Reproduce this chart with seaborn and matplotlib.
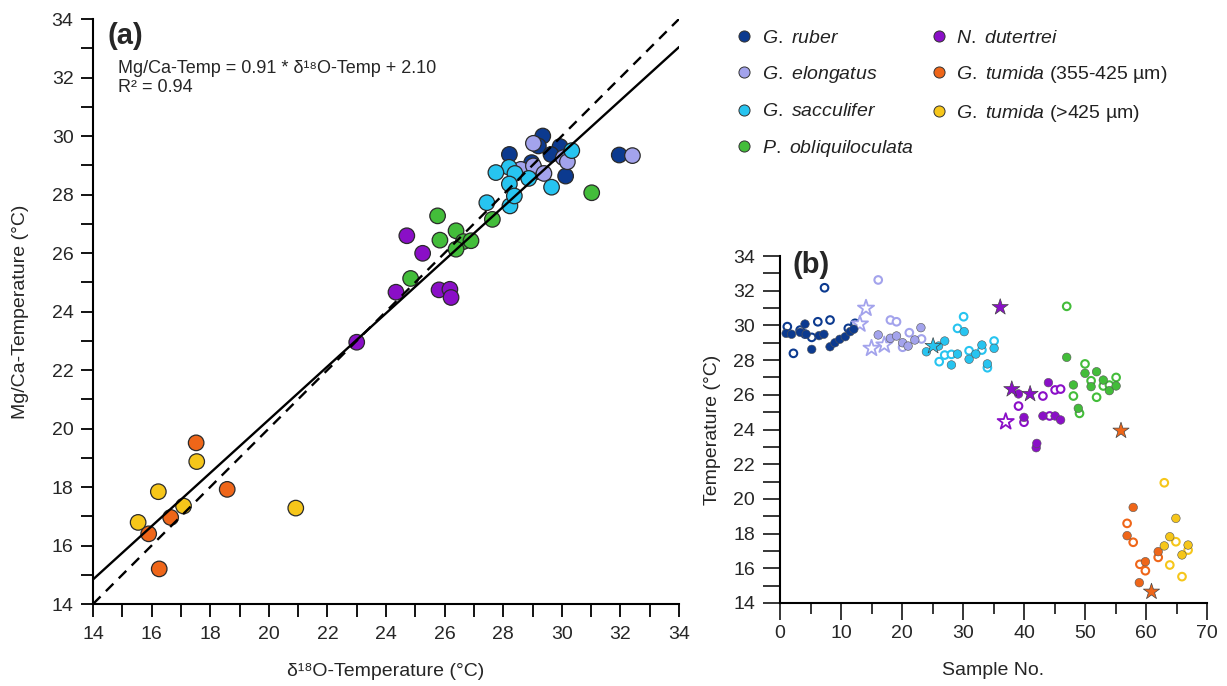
import matplotlib
matplotlib.use("Agg")
import matplotlib.pyplot as plt
from matplotlib.lines import Line2D
from matplotlib.ticker import MultipleLocator
import numpy as np
import pandas as pd
import seaborn as sns

sns.set_theme(style="white")
plt.rcParams["font.family"] = ["Liberation Sans", "DejaVu Sans"]
plt.rcParams["mathtext.fontset"] = "custom"
plt.rcParams["mathtext.rm"] = "Liberation Sans"
plt.rcParams["mathtext.it"] = "Liberation Sans:italic"

species = ["G. ruber", "G. elongatus", "G. sacculifer", "P. obliquiloculata",
           "N. dutertrei", "G. tumida (355-425 µm)", "G. tumida (>425 µm)"]
legend_labels = [r"$\it{G.\ ruber}$", r"$\it{G.\ elongatus}$", r"$\it{G.\ sacculifer}$",
                 r"$\it{P.\ obliquiloculata}$", r"$\it{N.\ dutertrei}$",
                 r"$\it{G.\ tumida}$ (355-425 µm)", r"$\it{G.\ tumida}$ (>425 µm)"]
colors = ["#0c3a8f", "#a3a3ec", "#27c4f0", "#43bd3a", "#8a0fc7", "#ef6619", "#f6c61a"]
palette = dict(zip(species, colors))

# ---- (a) δ18O-temperature vs Mg/Ca-temperature ----
ruber_d18o = [29.35, 29.2, 28.21, 29.94, 29.63, 30.13, 31.96, 28.97, 29.14]
ruber_mgca = [30.0, 29.66, 29.37, 29.64, 29.37, 28.63, 29.35, 29.09, 28.78]
elong_d18o = [29.03, 30.05, 30.19, 32.41, 28.6, 29.03, 29.39]
elong_mgca = [29.75, 29.26, 29.12, 29.33, 28.86, 28.98, 28.72]
sacc_d18o = [30.34, 28.2, 27.75, 28.4, 28.87, 28.21, 29.65, 27.44, 28.23, 28.38]
sacc_mgca = [29.5, 28.93, 28.75, 28.72, 28.55, 28.36, 28.25, 27.72, 27.61, 27.95]
pobl_d18o = [31.02, 25.76, 25.84, 26.39, 26.64, 26.90, 26.39, 27.63, 24.84]
pobl_mgca = [28.06, 27.27, 26.44, 26.76, 26.39, 26.42, 26.13, 27.15, 25.13]
dut_d18o = [24.71, 25.25, 24.34, 25.81, 26.18, 26.22, 23.0]
dut_mgca = [26.59, 25.99, 24.66, 24.74, 24.76, 24.48, 22.95]
tum1_d18o = [17.52, 18.58, 16.65, 15.90, 16.26]
tum1_mgca = [19.51, 17.92, 16.96, 16.40, 15.20]
tum2_d18o = [17.54, 16.23, 20.92, 17.09, 15.54]
tum2_mgca = [18.87, 17.84, 17.28, 17.35, 16.79]

slope, intercept = 0.91, 2.10

# ---- (b) temperatures by sample number ----
ruber_mg_s = [1.0, 1.9, 3.3, 4.1, 4.3, 5.2, 6.4, 7.2, 8.2, 9.0, 9.8, 10.7, 11.5, 12.1]
ruber_mg_t = [29.54, 29.49, 29.6, 30.08, 29.49, 28.62, 29.41, 29.49, 28.77, 29.0, 29.2, 29.35, 29.64, 29.78]
ruber_d_s = [1.2, 2.2, 3.3, 4.1, 5.2, 6.2, 7.3, 8.2, 11.2, 12.3]
ruber_d_t = [29.93, 28.39, 29.73, 29.5, 29.31, 30.21, 32.17, 30.31, 29.83, 30.12]

elong_mg_s = [16.1, 18.1, 19.1, 20.1, 21.0, 22.1, 23.1]
elong_mg_t = [29.45, 29.26, 29.39, 29.0, 28.81, 29.16, 29.87]
elong_d_s = [16.1, 18.1, 19.1, 20.1, 21.2, 23.2]
elong_d_t = [32.62, 30.31, 30.21, 28.74, 29.58, 29.22]
elong_star_s = [13.1, 14.1, 15.0, 17.1]
elong_star_t = [30.08, 30.99, 28.68, 28.87]

sacc_mg_s = [24.0, 26.0, 27.0, 28.1, 29.1, 30.2, 31.0, 32.1, 33.1, 34.0, 35.1]
sacc_mg_t = [28.48, 28.81, 29.1, 27.72, 28.35, 29.64, 28.05, 28.35, 28.87, 27.78, 28.68]
sacc_d_s = [26.1, 27.0, 28.1, 29.1, 30.1, 31.0, 33.1, 34.0, 35.1]
sacc_d_t = [27.91, 28.29, 28.33, 29.83, 30.5, 28.54, 28.58, 27.56, 29.1]
sacc_star_s = [25.1]
sacc_star_t = [28.81]

pobl_mg_s = [47.0, 48.1, 48.9, 50.0, 51.0, 51.9, 53.0, 54.0, 55.1]
pobl_mg_t = [28.16, 26.57, 25.22, 27.24, 26.47, 27.33, 26.85, 26.24, 26.51]
pobl_d_s = [47.0, 48.1, 49.1, 50.0, 51.0, 51.9, 53.0, 54.0, 55.1]
pobl_d_t = [31.1, 25.93, 24.93, 27.78, 26.81, 25.86, 26.51, 26.56, 27.0]

dut_mg_s = [39.1, 40.0, 42.0, 42.1, 43.1, 44.0, 45.1, 46.0]
dut_mg_t = [26.05, 24.7, 22.95, 23.2, 24.78, 26.7, 24.78, 24.55]
dut_d_s = [39.1, 40.0, 43.1, 44.2, 45.1, 46.0]
dut_d_t = [25.35, 24.42, 25.93, 24.78, 26.28, 26.33]
dut_star_s = [36.1, 38.0, 41.0]
dut_star_t = [31.05, 26.32, 26.05]
dut_ostar_s = [37.0]
dut_ostar_t = [24.45]

tum1_mg_s = [57.9, 56.9, 62.0, 59.9, 58.9]
tum1_mg_t = [19.51, 17.88, 16.96, 16.38, 15.17]
tum1_d_s = [56.9, 57.9, 62.0, 59.0, 59.9]
tum1_d_t = [18.59, 17.5, 16.63, 16.23, 15.86]
tum1_star_s = [55.9, 60.9]
tum1_star_t = [23.93, 14.65]

tum2_mg_s = [64.9, 63.9, 63.0, 66.9, 65.9]
tum2_mg_t = [18.88, 17.82, 17.29, 17.34, 16.77]
tum2_d_s = [63.0, 64.9, 66.9, 63.9, 65.9]
tum2_d_t = [20.93, 17.53, 17.05, 16.19, 15.52]


def frame(groups, xname, yname):
    rows = []
    for sp, xs, ys in groups:
        for xv, yv in zip(xs, ys):
            rows.append({"species": sp, xname: xv, yname: yv})
    return pd.DataFrame(rows)


df_a = frame([
    (species[0], ruber_d18o, ruber_mgca), (species[1], elong_d18o, elong_mgca),
    (species[2], sacc_d18o, sacc_mgca), (species[3], pobl_d18o, pobl_mgca),
    (species[4], dut_d18o, dut_mgca), (species[5], tum1_d18o, tum1_mgca),
    (species[6], tum2_d18o, tum2_mgca)], "d18o", "mgca")

df_b_mg = frame([
    (species[0], ruber_mg_s, ruber_mg_t), (species[1], elong_mg_s, elong_mg_t),
    (species[2], sacc_mg_s, sacc_mg_t), (species[3], pobl_mg_s, pobl_mg_t),
    (species[4], dut_mg_s, dut_mg_t), (species[5], tum1_mg_s, tum1_mg_t),
    (species[6], tum2_mg_s, tum2_mg_t)], "sample", "temp")
df_b_d = frame([
    (species[0], ruber_d_s, ruber_d_t), (species[1], elong_d_s, elong_d_t),
    (species[2], sacc_d_s, sacc_d_t), (species[3], pobl_d_s, pobl_d_t),
    (species[4], dut_d_s, dut_d_t), (species[5], tum1_d_s, tum1_d_t),
    (species[6], tum2_d_s, tum2_d_t)], "sample", "temp")
df_b_star = frame([
    (species[2], sacc_star_s, sacc_star_t), (species[4], dut_star_s, dut_star_t),
    (species[5], tum1_star_s, tum1_star_t)], "sample", "temp")
df_b_ostar = frame([
    (species[1], elong_star_s, elong_star_t), (species[4], dut_ostar_s, dut_ostar_t)],
    "sample", "temp")

fig = plt.figure(figsize=(12.27, 6.86), dpi=100)
ax1 = fig.add_axes([0.0758, 0.1195, 0.4776, 0.8528])
ax2 = fig.add_axes([0.6357, 0.121, 0.348, 0.5058])

# ---------- panel (a) ----------
sns.scatterplot(data=df_a, x="d18o", y="mgca", hue="species", palette=palette,
                s=125, edgecolor="#2a2a2a", linewidth=0.9, legend=False, ax=ax1, zorder=2)
xfit = np.array([14.0, 34.0])
sns.lineplot(x=xfit, y=slope * xfit + intercept, color="black", lw=1.7, ax=ax1, zorder=3)
sns.lineplot(x=xfit, y=xfit, color="black", lw=1.7, ax=ax1, zorder=3,
             linestyle=(0, (4.5, 3.2)))
ax1.set_xlim(14, 34)
ax1.set_ylim(14, 34)
ax1.xaxis.set_major_locator(MultipleLocator(2))
ax1.xaxis.set_minor_locator(MultipleLocator(1))
ax1.yaxis.set_major_locator(MultipleLocator(2))
ax1.yaxis.set_minor_locator(MultipleLocator(1))
ax1.tick_params(which="both", direction="out", length=9, width=1.3, color="black",
                labelsize=14, bottom=True, left=True)
ax1.tick_params(axis="x", pad=7)
ax1.tick_params(axis="y", pad=5)
ax1.set_xlabel("δ¹⁸O-Temperature (°C)", fontsize=14, labelpad=14)
ax1.set_ylabel("Mg/Ca-Temperature (°C)", fontsize=14, labelpad=16)
ax1.text(0.025, 0.995, "(a)", transform=ax1.transAxes, fontsize=21, fontweight="bold",
         va="top", ha="left")
ax1.text(0.043, 0.93, "Mg/Ca-Temp = 0.91 * δ¹⁸O-Temp + 2.10\nR² = 0.94",
         transform=ax1.transAxes, fontsize=13, va="top", ha="left", linespacing=1.12)

# ---------- panel (b) ----------
sns.scatterplot(data=df_b_d, x="sample", y="temp", hue="species", palette=palette,
                s=30, legend=False, ax=ax2, zorder=2)
open_coll = ax2.collections[-1]
open_coll.set_edgecolors(open_coll.get_facecolors())
open_coll.set_facecolors("white")
open_coll.set_linewidths(1.5)

sns.scatterplot(data=df_b_ostar, x="sample", y="temp", hue="species", palette=palette,
                s=150, marker="*", legend=False, ax=ax2, zorder=2)
ostar = ax2.collections[-1]
ostar.set_edgecolors(ostar.get_facecolors())
ostar.set_facecolors("white")
ostar.set_linewidths(1.3)

sns.scatterplot(data=df_b_mg, x="sample", y="temp", hue="species", palette=palette,
                s=38, edgecolor="#555555", linewidth=0.4, legend=False, ax=ax2, zorder=3)
sns.scatterplot(data=df_b_star, x="sample", y="temp", hue="species", palette=palette,
                s=150, marker="*", edgecolor="#444444", linewidth=0.5, legend=False,
                ax=ax2, zorder=3)

ax2.set_xlim(0, 70)
ax2.set_ylim(14, 34)
ax2.xaxis.set_major_locator(MultipleLocator(10))
ax2.xaxis.set_minor_locator(MultipleLocator(5))
ax2.yaxis.set_major_locator(MultipleLocator(2))
ax2.yaxis.set_minor_locator(MultipleLocator(1))
ax2.tick_params(axis="x", which="major", direction="out", length=12, width=1.3, labelsize=14, pad=4, bottom=True)
ax2.tick_params(axis="x", which="minor", direction="out", length=8, width=1.3, bottom=True)
ax2.tick_params(axis="y", which="both", direction="out", length=12, width=1.3, labelsize=14, pad=6, left=True)
ax2.set_xlabel("Sample No.", fontsize=14, labelpad=14)
ax2.set_ylabel("Temperature (°C)", fontsize=14, labelpad=9)
fig.text(0.646, 0.614, "(b)", fontsize=21, fontweight="bold", va="center", ha="left")

for ax in (ax1, ax2):
    sns.despine(ax=ax)
    for side in ("left", "bottom"):
        ax.spines[side].set_linewidth(1.5)
        ax.spines[side].set_color("black")

# ---------- legend ----------
handles = [Line2D([], [], ls="", marker="o", markersize=8, markerfacecolor=c,
                  markeredgecolor="#333333", markeredgewidth=0.7) for c in colors]
leg = fig.legend(handles, legend_labels, loc="upper left", bbox_to_anchor=(0.585, 0.983),
                 ncol=2, frameon=False, fontsize=14, handlelength=0.9, handletextpad=0.45,
                 labelspacing=0.9, columnspacing=0.85)
for t in leg.get_texts():
    t.set_color("#222222")

fig.savefig("out.png", dpi=100)
